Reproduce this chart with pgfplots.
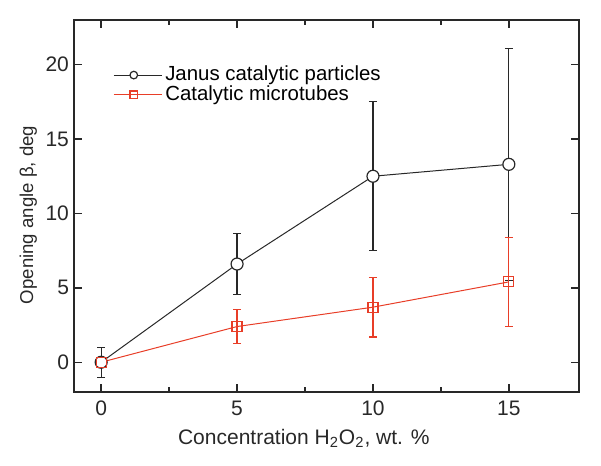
\documentclass[border=0pt]{standalone}
\usepackage{pgfplots}
\pgfplotsset{compat=1.18}
\usepackage{fontspec}
\setmainfont{Liberation Sans}
\definecolor{redc}{RGB}{232,62,40}
\definecolor{blk}{RGB}{40,40,40}
\begin{document}
\begin{tikzpicture}
\begin{axis}[
  name=ax,
  scale only axis,
  width=252.5pt, height=186pt,
  at={(0,0)}, anchor=south west,
  xmin=-1, xmax=17.58, ymin=-2, ymax=23,
  xtick={0,5,10,15}, ytick={0,5,10,15,20},
  minor xtick={2.5,7.5,12.5},
  tick align=inside,
  major tick length=4pt, minor tick length=2.5pt,
  axis line style={line width=0.9pt, blk},
  every tick/.style={blk, line width=0.7pt},
  /pgf/number format/assume math mode=true,
  tick label style={font=\fontsize{10.5}{12}\selectfont, text=blk},
  xticklabel style={yshift=-1pt},
  yticklabel style={xshift=1pt},
  xlabel={Concentration H\textsubscript{2}O\textsubscript{2}, wt. \%},
  ylabel={Opening angle β, deg},
  every axis x label/.style={at={(rel axis cs:0.455,0)}, anchor=north, yshift=-15pt,
    font=\fontsize{10.5}{12}\selectfont, text=blk},
  every axis y label/.style={at={(rel axis cs:0,0.476)}, anchor=south, rotate=90, yshift=15pt,
    font=\fontsize{9.3}{11}\selectfont, text=blk},
  legend style={draw=none, fill=none, at={(rel axis cs:0.077,0.885)}, anchor=north west,
    font=\fontsize{10.2}{12}\selectfont, row sep=-2pt, inner sep=0pt,
    nodes={inner sep=1.5pt}},
  legend cell align=left,
  legend image code/.code={
    \path (0pt,0pt) -- (24pt,0pt);
    \draw[#1] (0cm,0cm) -- (20pt,0cm);
    \draw[#1, only marks, mark size=1.9pt] plot coordinates {(10pt,0cm)};
  },
]
\addplot[blk, line width=0.5pt, mark=*, mark size=3pt, mark options={fill=white, draw=blk, line width=0.6pt},
  error bars/.cd, y dir=both, y explicit, error mark options={rotate=90, mark size=2pt, blk, line width=0.6pt},
  error bar style={blk, line width=0.6pt}]
  coordinates {
  (0,0) +- (0,1.0)
  (5,6.6) +- (0,2.05)
  (10,12.5) +- (0,5.0)
  (15,13.3) +- (0,7.8)
  };
\addlegendentry{Janus catalytic particles}
\addplot[redc, line width=0.5pt, mark=square, mark size=2.5pt, mark options={line width=0.6pt},
  error bars/.cd, y dir=both, y explicit, error mark options={rotate=90, mark size=2pt, redc, line width=0.6pt},
  error bar style={redc, line width=0.6pt}]
  coordinates {
  (0,0) +- (0,0.3)
  (5,2.4) +- (0,1.15)
  (10,3.7) +- (0,2.0)
  (15,5.4) +- (0,3.0)
  };
\addlegendentry{Catalytic microtubes}
\end{axis}
\pgfresetboundingbox
\path[use as bounding box] (-37pt,-37pt) rectangle (263.5pt,196pt);
\end{tikzpicture}
\end{document}
